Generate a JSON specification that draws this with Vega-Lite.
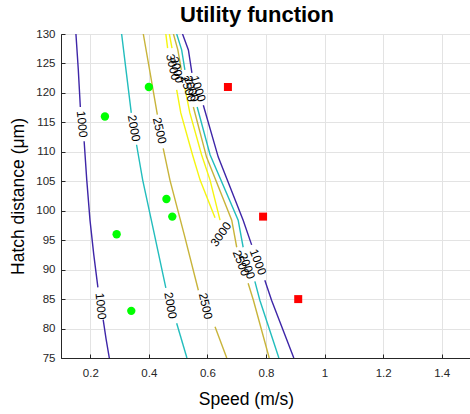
{
  "$schema": "https://vega.github.io/schema/vega-lite/v6.json",
  "width": 410,
  "height": 324,
  "autosize": {"type": "none"},
  "padding": {"left": 61, "top": 34, "right": 0, "bottom": 56},
  "background": "white",
  "title": {"text": "Utility function", "fontSize": 22, "fontWeight": "bold", "font": "Liberation Sans", "color": "#000000", "anchor": "middle", "dx": -9, "baseline": "alphabetic", "offset": -16},
  "config": {
    "view": {"stroke": "#262626", "strokeWidth": 1},
    "axis": {"domainColor": "#262626", "tickColor": "#262626", "labelColor": "#262626", "titleColor": "#000000", "gridColor": "#e3e3e3", "gridWidth": 1, "labelFont": "Liberation Sans", "titleFont": "Liberation Sans", "labelFontSize": 11.5, "titleFontSize": 17.5, "titleFontWeight": "normal", "labelOverlap": false}
  },
  "datasets": {
    "lines": [
      {"level": "1000", "seg": "1000La", "x": 0.151, "y": 130}, {"level": "1000", "seg": "1000La", "x": 0.159, "y": 124}, {"level": "1000", "seg": "1000La", "x": 0.166, "y": 117.6},
      {"level": "1000", "seg": "1000Lb", "x": 0.179, "y": 111.8}, {"level": "1000", "seg": "1000Lb", "x": 0.188, "y": 105.2}, {"level": "1000", "seg": "1000Lb", "x": 0.199, "y": 98.4}, {"level": "1000", "seg": "1000Lb", "x": 0.212, "y": 92.5}, {"level": "1000", "seg": "1000Lb", "x": 0.226, "y": 87.0},
      {"level": "1000", "seg": "1000Lc", "x": 0.244, "y": 81.5}, {"level": "1000", "seg": "1000Lc", "x": 0.254, "y": 78.2}, {"level": "1000", "seg": "1000Lc", "x": 0.265, "y": 75},
      {"level": "2000", "seg": "2000La", "x": 0.307, "y": 130}, {"level": "2000", "seg": "2000La", "x": 0.323, "y": 123.5}, {"level": "2000", "seg": "2000La", "x": 0.340, "y": 116.6},
      {"level": "2000", "seg": "2000Lb", "x": 0.358, "y": 111.2}, {"level": "2000", "seg": "2000Lb", "x": 0.379, "y": 105.2}, {"level": "2000", "seg": "2000Lb", "x": 0.418, "y": 96.2}, {"level": "2000", "seg": "2000Lb", "x": 0.458, "y": 86.9},
      {"level": "2000", "seg": "2000Lc", "x": 0.495, "y": 80.9}, {"level": "2000", "seg": "2000Lc", "x": 0.530, "y": 75},
      {"level": "2500", "seg": "2500La", "x": 0.381, "y": 130}, {"level": "2500", "seg": "2500La", "x": 0.404, "y": 123.5}, {"level": "2500", "seg": "2500La", "x": 0.429, "y": 116.3},
      {"level": "2500", "seg": "2500Lb", "x": 0.449, "y": 110.6}, {"level": "2500", "seg": "2500Lb", "x": 0.472, "y": 105.2}, {"level": "2500", "seg": "2500Lb", "x": 0.521, "y": 95.9}, {"level": "2500", "seg": "2500Lb", "x": 0.569, "y": 86.5},
      {"level": "2500", "seg": "2500Lc", "x": 0.626, "y": 80.3}, {"level": "2500", "seg": "2500Lc", "x": 0.666, "y": 75},
      {"level": "1000", "seg": "1000Ra", "x": 0.515, "y": 130}, {"level": "1000", "seg": "1000Ra", "x": 0.535, "y": 127.3}, {"level": "1000", "seg": "1000Ra", "x": 0.547, "y": 123.4},
      {"level": "1000", "seg": "1000Rb", "x": 0.586, "y": 117.9}, {"level": "1000", "seg": "1000Rb", "x": 0.637, "y": 109.1}, {"level": "1000", "seg": "1000Rb", "x": 0.722, "y": 98.4}, {"level": "1000", "seg": "1000Rb", "x": 0.751, "y": 94.2},
      {"level": "1000", "seg": "1000Rc", "x": 0.796, "y": 88.2}, {"level": "1000", "seg": "1000Rc", "x": 0.819, "y": 84.8}, {"level": "1000", "seg": "1000Rc", "x": 0.895, "y": 75},
      {"level": "2000", "seg": "2000Ra", "x": 0.495, "y": 130}, {"level": "2000", "seg": "2000Ra", "x": 0.512, "y": 127.3}, {"level": "2000", "seg": "2000Ra", "x": 0.523, "y": 123.9},
      {"level": "2000", "seg": "2000Rb", "x": 0.565, "y": 117.6}, {"level": "2000", "seg": "2000Rb", "x": 0.609, "y": 109.5}, {"level": "2000", "seg": "2000Rb", "x": 0.705, "y": 98.4}, {"level": "2000", "seg": "2000Rb", "x": 0.722, "y": 93.8},
      {"level": "2000", "seg": "2000Rc", "x": 0.762, "y": 88.0}, {"level": "2000", "seg": "2000Rc", "x": 0.779, "y": 84.8}, {"level": "2000", "seg": "2000Rc", "x": 0.844, "y": 75},
      {"level": "2500", "seg": "2500Ra", "x": 0.484, "y": 130}, {"level": "2500", "seg": "2500Ra", "x": 0.499, "y": 127.3}, {"level": "2500", "seg": "2500Ra", "x": 0.511, "y": 123.9},
      {"level": "2500", "seg": "2500Rb", "x": 0.552, "y": 117.6}, {"level": "2500", "seg": "2500Rb", "x": 0.597, "y": 109.1}, {"level": "2500", "seg": "2500Rb", "x": 0.683, "y": 98.4}, {"level": "2500", "seg": "2500Rb", "x": 0.700, "y": 93.8},
      {"level": "2500", "seg": "2500Rc", "x": 0.739, "y": 87.7}, {"level": "2500", "seg": "2500Rc", "x": 0.757, "y": 84.8}, {"level": "2500", "seg": "2500Rc", "x": 0.811, "y": 75},
      {"level": "3000", "seg": "3000La", "x": 0.458, "y": 130}, {"level": "3000", "seg": "3000La", "x": 0.464, "y": 127.6},
      {"level": "3000", "seg": "3000Lb", "x": 0.495, "y": 120.5}, {"level": "3000", "seg": "3000Lb", "x": 0.509, "y": 116.6}, {"level": "3000", "seg": "3000Lb", "x": 0.549, "y": 109.5}, {"level": "3000", "seg": "3000Lb", "x": 0.575, "y": 105.2}, {"level": "3000", "seg": "3000Lb", "x": 0.626, "y": 98.8},
      {"level": "3000", "seg": "3000Ra", "x": 0.470, "y": 130}, {"level": "3000", "seg": "3000Ra", "x": 0.479, "y": 127.6},
      {"level": "3000", "seg": "3000Rb", "x": 0.523, "y": 120.8}, {"level": "3000", "seg": "3000Rb", "x": 0.540, "y": 116.6}, {"level": "3000", "seg": "3000Rb", "x": 0.580, "y": 109.5}, {"level": "3000", "seg": "3000Rb", "x": 0.609, "y": 105.2}, {"level": "3000", "seg": "3000Rb", "x": 0.643, "y": 98.4}
    ],
    "labels": [
      {"label": "1000", "grp": "L1", "x": 0.172, "y": 114.7},
      {"label": "1000", "grp": "L1", "x": 0.236, "y": 83.8},
      {"label": "2000", "grp": "L2", "x": 0.349, "y": 114.0},
      {"label": "2000", "grp": "L2", "x": 0.474, "y": 83.9},
      {"label": "2500", "grp": "L3", "x": 0.437, "y": 113.6},
      {"label": "2500", "grp": "L3", "x": 0.594, "y": 83.8},
      {"label": "3000", "grp": "U3", "x": 0.482, "y": 124.4},
      {"label": "3000", "grp": "U3", "x": 0.496, "y": 123.9},
      {"label": "2500", "grp": "U", "x": 0.534, "y": 120.7},
      {"label": "2000", "grp": "U", "x": 0.546, "y": 120.7},
      {"label": "1000", "grp": "U", "x": 0.568, "y": 120.7},
      {"label": "2500", "grp": "D", "x": 0.715, "y": 91.1},
      {"label": "2000", "grp": "D", "x": 0.735, "y": 90.6},
      {"label": "1000", "grp": "D", "x": 0.773, "y": 91.3},
      {"label": "3000", "grp": "D3", "x": 0.646, "y": 96.0}
    ],
    "pts": [
      {"kind": "good", "x": 0.25, "y": 116},
      {"kind": "good", "x": 0.40, "y": 121},
      {"kind": "good", "x": 0.46, "y": 102},
      {"kind": "good", "x": 0.48, "y": 99},
      {"kind": "good", "x": 0.29, "y": 96},
      {"kind": "good", "x": 0.34, "y": 83},
      {"kind": "bad", "x": 0.67, "y": 121},
      {"kind": "bad", "x": 0.79, "y": 99},
      {"kind": "bad", "x": 0.91, "y": 85}
    ]
  },
  "layer": [
    {
      "data": {"name": "lines"},
      "mark": {"type": "line", "strokeWidth": 1.4, "clip": true},
      "encoding": {
        "x": {"field": "x", "type": "quantitative", "scale": {"domain": [0.1, 1.5], "nice": false, "zero": false},
          "axis": {"title": "Speed (m/s)", "values": [0.2, 0.4, 0.6, 0.8, 1, 1.2, 1.4], "tickCount": 20, "format": "~g", "grid": true, "tickSize": -4, "labelPadding": 13, "titleX": 185, "titleY": 46, "titleBaseline": "alphabetic", "titleAnchor": "middle"}},
        "y": {"field": "y", "type": "quantitative", "scale": {"domain": [75, 130], "nice": false, "zero": false},
          "axis": {"title": "Hatch distance (μm)", "values": [75, 80, 85, 90, 95, 100, 105, 110, 115, 120, 125, 130], "tickCount": 20, "grid": true, "tickSize": -4, "labelPadding": 10, "titleX": -42.5, "titleY": 162, "titleAngle": -90, "titleBaseline": "middle", "titleAlign": "center"}},
        "color": {"field": "level", "type": "nominal", "scale": {"domain": ["1000", "2000", "2500", "3000"], "range": ["#3e26a8", "#22bdbd", "#c8b43a", "#f5f510"]}, "legend": null},
        "detail": {"field": "seg"},
        "order": {"field": "y", "sort": "descending"}
      }
    },
    {
      "data": {"name": "labels"},
      "transform": [{"filter": "datum.grp === 'L1'"}],
      "mark": {"type": "text", "angle": 84, "fontSize": 12, "font": "Liberation Sans", "color": "#000000", "align": "center", "baseline": "middle"},
      "encoding": {"x": {"field": "x", "type": "quantitative"}, "y": {"field": "y", "type": "quantitative"}, "text": {"field": "label"}}
    },
    {
      "data": {"name": "labels"},
      "transform": [{"filter": "datum.grp === 'L2'"}],
      "mark": {"type": "text", "angle": 80, "fontSize": 12, "font": "Liberation Sans", "color": "#000000", "align": "center", "baseline": "middle"},
      "encoding": {"x": {"field": "x", "type": "quantitative"}, "y": {"field": "y", "type": "quantitative"}, "text": {"field": "label"}}
    },
    {
      "data": {"name": "labels"},
      "transform": [{"filter": "datum.grp === 'L3'"}],
      "mark": {"type": "text", "angle": 77, "fontSize": 12, "font": "Liberation Sans", "color": "#000000", "align": "center", "baseline": "middle"},
      "encoding": {"x": {"field": "x", "type": "quantitative"}, "y": {"field": "y", "type": "quantitative"}, "text": {"field": "label"}}
    },
    {
      "data": {"name": "labels"},
      "transform": [{"filter": "datum.grp === 'U3'"}],
      "mark": {"type": "text", "angle": 77, "fontSize": 12, "font": "Liberation Sans", "color": "#000000", "align": "center", "baseline": "middle"},
      "encoding": {"x": {"field": "x", "type": "quantitative"}, "y": {"field": "y", "type": "quantitative"}, "text": {"field": "label"}}
    },
    {
      "data": {"name": "labels"},
      "transform": [{"filter": "datum.grp === 'U'"}],
      "mark": {"type": "text", "angle": 72, "fontSize": 12, "font": "Liberation Sans", "color": "#000000", "align": "center", "baseline": "middle"},
      "encoding": {"x": {"field": "x", "type": "quantitative"}, "y": {"field": "y", "type": "quantitative"}, "text": {"field": "label"}}
    },
    {
      "data": {"name": "labels"},
      "transform": [{"filter": "datum.grp === 'D'"}],
      "mark": {"type": "text", "angle": 69, "fontSize": 12, "font": "Liberation Sans", "color": "#000000", "align": "center", "baseline": "middle"},
      "encoding": {"x": {"field": "x", "type": "quantitative"}, "y": {"field": "y", "type": "quantitative"}, "text": {"field": "label"}}
    },
    {
      "data": {"name": "labels"},
      "transform": [{"filter": "datum.grp === 'D3'"}],
      "mark": {"type": "text", "angle": -55, "fontSize": 12, "font": "Liberation Sans", "color": "#000000", "align": "center", "baseline": "middle"},
      "encoding": {"x": {"field": "x", "type": "quantitative"}, "y": {"field": "y", "type": "quantitative"}, "text": {"field": "label"}}
    },
    {
      "data": {"name": "pts"},
      "transform": [{"filter": "datum.kind === 'good'"}],
      "mark": {"type": "point", "shape": "circle", "filled": true, "color": "#00ff00", "size": 70, "opacity": 1},
      "encoding": {"x": {"field": "x", "type": "quantitative"}, "y": {"field": "y", "type": "quantitative"}}
    },
    {
      "data": {"name": "pts"},
      "transform": [{"filter": "datum.kind === 'bad'"}],
      "mark": {"type": "point", "shape": "square", "filled": true, "color": "#ff0000", "size": 64, "opacity": 1},
      "encoding": {"x": {"field": "x", "type": "quantitative"}, "y": {"field": "y", "type": "quantitative"}}
    }
  ]
}
